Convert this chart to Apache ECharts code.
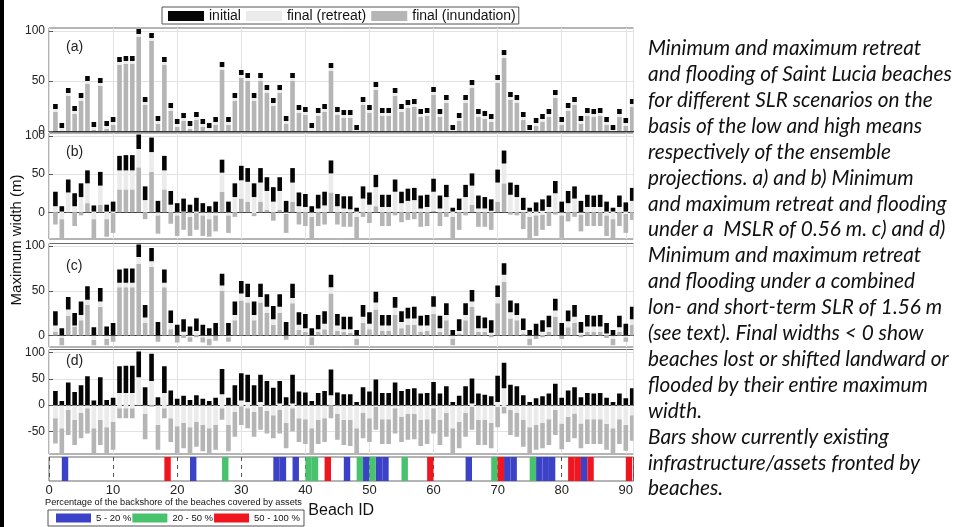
<!DOCTYPE html>
<html>
<head>
<meta charset="utf-8">
<script src="https://cdn.jsdelivr.net/npm/echarts@6/dist/echarts.min.js"></script>
<style>
html,body{margin:0;padding:0;background:#fff;}
#c{width:957px;height:527px;}
</style>
</head>
<body>
<div id="c"></div>
<script>
// ---------------- DATA ----------------
const beachIds = [1,2,3,4,5,6,7,8,9,10,11,12,13,14,15,16,17,18,19,20,21,22,23,24,25,26,27,28,29,30,31,32,33,34,35,36,37,38,39,40,41,42,43,44,45,46,47,48,49,50,51,52,53,54,55,56,57,58,59,60,61,62,63,64,65,66,67,68,69,70,71,72,73,74,75,76,77,78,79,80,81,82,83,84,85,86,87,88,89,90,91];

// initial maximum width (top of the black segment), same in all panels
const initialWidth = [27,8,43,25,38,55,9,53,10,14, 74,75,75,102,34,98,15,74,28,12, 18,10,19,12,8,14,69,14,38,61, 58,38,58,46,33,46,15,58,26,24, 8,23,27,68,24,21,21,6,34,26, 49,23,23,43,27,31,32,22,23,44, 22,36,6,18,36,51,22,20,17,56, 81,39,36,19,6,13,17,22,41,14, 28,34,15,23,22,23,14,6,22,13,32];

// panel (a): bottom of black (final retreat) and bottom of light grey (final inundation); grey starts at 0
const aBlackLow = [22,3,38,20,33,50,4,48,5,9, 69,70,70,97,29,93,10,69,23,7, 13,5,14,7,3,9,64,9,33,56, 53,33,53,41,28,41,10,53,21,19, 3,18,22,63,19,16,16,1,29,21, 44,18,18,38,22,26,27,17,18,39, 17,31,1,13,31,46,17,15,12,51, 76,34,31,14,1,8,12,17,36,9, 23,29,10,18,17,18,9,1,17,8,27];
const aLightLow = [19,0,35,17,30,47,1,45,2,6, 66,67,67,94,26,90,7,66,20,4, 10,2,11,4,0,6,61,6,30,53, 50,30,50,38,25,38,7,50,18,16, 0,15,19,60,16,13,13,0,26,18, 41,15,15,35,19,23,24,14,15,36, 14,28,0,10,28,43,14,12,9,48, 73,31,28,11,0,5,9,14,33,6, 20,26,7,15,14,15,6,0,14,5,24];

// panel (b)
const bBlackLow = [8,1,26,8,20,38,1,35,1,1, 55,55,55,83,16,79,0,55,10,0, 1,0,1,0,0,0,52,0,20,42, 40,20,39,28,14,28,0,39,8,7, 0,5,9,51,8,5,4,1,18,10, 33,7,7,27,12,15,16,5,7,27, 5,20,1,3,20,35,5,5,2,39, 64,23,20,3,1,1,2,7,25,0, 12,18,0,7,7,7,1,1,7,1,15];
const bLightLow = [0,-9,0,0,0,12,-9,10,-9,-1, 30,30,30,59,0,53,-4,30,0,-4, 0,-6,-1,-4,-9,-4,27,-4,0,18, 14,-1,14,3,0,3,-2,14,0,0, -6,0,0,26,0,0,0,-6,0,0, 8,0,0,0,0,0,0,0,0,2, 0,0,-6,0,0,10,0,0,0,14, 38,0,0,0,-6,-4,-3,0,0,-4, 0,0,-3,0,0,0,-4,-9,0,-2,0];
const bGreyLow = [-16,-34,0,-18,-4,0,-34,0,-32,-27, 0,0,0,0,-9,0,-28,0,-15,-31, -23,-31,-23,-31,-32,-25,0,-27,-6,0, 0,-5,0,0,-11,0,-27,0,-16,-18, -34,-18,-16,0,-16,-19,-19,-34,-6,-14, 0,-18,-18,-4,-13,-10,-9,-19,-18,0, -18,-6,-34,-23,-4,0,-19,-19,-23,0, 0,-3,-4,-22,-34,-31,-23,-18,-3,-34, -12,-6,-25,-18,-18,-18,-31,-34,-18,-27,-10];

// panel (c)
const cBlackLow = [11,0,29,11,23,40,0,38,0,0, 59,59,59,88,20,83,0,59,14,0, 4,0,5,0,0,0,56,0,23,47, 43,23,43,32,18,32,0,42,12,8, 0,7,13,54,11,7,7,0,21,13, 37,11,11,31,15,19,19,11,11,32, 8,23,0,5,23,38,8,8,3,43, 68,26,23,6,0,0,4,9,28,0, 16,21,3,10,10,10,2,0,9,0,18];
const cLightLow = [4,-3,22,10,17,34,-5,32,-4,0, 54,54,54,80,14,77,0,54,7,0, 0,-2,0,-2,-4,0,50,-2,17,39, 37,17,37,25,12,25,0,36,6,4, -2,4,7,47,5,4,3,-4,14,7, 29,5,5,23,8,12,12,4,5,24, 4,17,-4,2,17,32,4,4,0,36, 60,19,17,2,-4,0,0,4,21,0, 9,14,0,4,4,4,0,-4,4,-2,12];
const cGreyLow = [0,-11,0,0,0,0,-11,0,-11,-7, 0,0,0,0,0,0,-7,0,0,-8, -3,-7,-2,-8,-11,-6,0,-7,0,0, 0,0,0,0,0,0,-5,0,0,0, -11,0,0,0,0,0,0,-11,0,0, 0,0,0,0,0,0,0,0,0,0, 0,0,-11,0,0,0,0,0,-2,0, 0,0,0,0,-11,-4,-2,0,0,-4, 0,0,-2,0,0,0,-3,-11,0,-7,0];

// panel (d)
const dBlackLow = [0,0,0,0,0,0,0,0,0,0, 23,23,23,53,0,46,0,23,0,0, 0,0,0,0,0,0,21,0,0,9, 6,0,6,0,0,3,0,3,0,0, 0,0,0,19,0,0,0,0,0,0, 0,0,0,0,0,0,0,0,0,0, 0,0,0,0,0,3,0,0,0,6, 32,0,0,0,0,0,0,0,0,0, 0,0,0,0,0,0,0,0,0,0,0];
const dLightLow = [-25,-44,-9,-28,-15,-6,-44,-28,-42,-32, -6,-6,-6,0,-17,0,-38,-6,-25,-40, -34,-42,-32,-38,-44,-38,-6,-38,-13,-2, -6,-13,-3,-11,-19,-9,-34,-6,-25,-27, -44,-28,-25,0,-17,-28,-28,-44,-15,-25, -3,-27,-27,-6,-22,-17,-17,-28,-27,-6, -28,-15,-44,-32,-15,-3,-28,-28,-34,-3, -3,-9,-15,-28,-42,-38,-34,-27,-9,-35, -22,-16,-35,-27,-27,-27,-36,-44,-27,-38,-19];
const dGreyLow = [-73,-93,-57,-76,-63,-54,-93,-76,-92,-85, -25,-25,-25,0,-65,-3,-85,-25,-70,-92, -82,-92,-79,-88,-92,-85,-28,-88,-60,-38, -44,-60,-47,-54,-63,-54,-82,-50,-70,-74, -93,-74,-70,-25,-66,-76,-78,-93,-63,-70, -47,-74,-74,-54,-70,-66,-65,-78,-74,-54, -76,-60,-93,-82,-60,-47,-76,-76,-82,-42, -16,-57,-60,-79,-92,-85,-82,-76,-57,-84, -70,-63,-82,-74,-74,-74,-85,-92,-74,-87,-68];

// assets strip: each band spans [start, start+1] on the Beach ID axis
const assetBlue  = [2,22,35,36,38,46,49,51,52,65,71,72,76,77,78,83];
const assetGreen = [27,40,41,48,50,55,69,75];
const assetRed   = [18,43,59,70,81,82,84,90];

const xTickLabels = [0,10,20,30,40,50,60,70,80,90];
const panelTicks = [[0,50,100],[0,50,100],[0,50,100],[-50,0,50,100]];
const panelLetters = ['(a)','(b)','(c)','(d)'];

const captionLines = [
  'Minimum and maximum retreat',
  'and flooding of Saint Lucia beaches',
  'for different SLR scenarios on the',
  'basis of the low and high means',
  'respectively of the ensemble',
  'projections. a) and b) Minimum',
  'and maximum retreat and flooding',
  'under a  MSLR of 0.56 m. c) and d)',
  'Minimum and maximum retreat',
  'and flooding under a combined',
  'lon- and short-term SLR of 1.56 m',
  '(see text). Final widths < 0 show',
  'beaches lost or shifted landward or',
  'flooded by their entire maximum',
  'width.',
  'Bars show currently existing',
  'infrastructure/assets fronted by',
  'beaches.'
];

// ---------------- LAYOUT / STYLE ----------------
const COL_BLACK = '#050505', COL_LIGHT = '#ebebeb', COL_GREY = '#b5b5b5';
const COL_BLUE = '#3b42c8', COL_GREEN = '#48c26c', COL_RED = '#ef1620';
const GL = 49, GW = 584.5;
const boxes = [
  {top: 28,    height: 104,   min: -1,  max: 103},
  {top: 133,   height: 106,   min: -35, max: 104},
  {top: 243.5, height: 103.5, min: -13, max: 103},
  {top: 349.5, height: 104.5, min: -93, max: 106}
];
const strip = {top: 457, height: 24};
const BAR_W = 0.72;
const FONT = 'Liberation Sans, Arial, sans-serif';

function clipTo(params, r) {
  const cs = params.coordSys;
  return echarts.graphic.clipRectByRect(r, {x: cs.x, y: cs.y, width: cs.width, height: cs.height});
}
function segRender(params, api) {
  const x = api.value(0), lo = api.value(1), hi = api.value(2);
  if (!(hi > lo)) return null;
  const tl = api.coord([x - BAR_W / 2, hi]);
  const br = api.coord([x + BAR_W / 2, lo]);
  const r = clipTo(params, {x: tl[0], y: tl[1], width: br[0] - tl[0], height: br[1] - tl[1]});
  return r ? {type: 'rect', shape: r, style: api.style()} : null;
}
function bandRender(params, api) {
  const s = api.value(0);
  const tl = api.coord([s, 1]);
  const br = api.coord([s + 1, 0]);
  const r = clipTo(params, {x: tl[0], y: tl[1], width: br[0] - tl[0], height: br[1] - tl[1]});
  return r ? {type: 'rect', shape: r, style: api.style()} : null;
}

const grids = [], xAxes = [], yAxes = [], series = [];
boxes.forEach((b, i) => {
  grids.push({left: GL, width: GW, top: b.top, height: b.height, show: true,
    borderColor: '#6a6a6a', borderWidth: 1, backgroundColor: 'transparent'});
  xAxes.push({type: 'value', gridIndex: i, min: 0, max: 91.2, interval: 10,
    axisLine: {show: true, onZero: true, lineStyle: {color: '#333', width: 1}},
    axisTick: {show: false}, axisLabel: {show: false},
    splitLine: {show: true, lineStyle: {color: '#e2e2e2', width: 1}}});
  yAxes.push({type: 'value', gridIndex: i, min: b.min, max: b.max,
    axisLine: {show: false},
    axisTick: {show: true, inside: true, length: 4, customValues: panelTicks[i], lineStyle: {color: '#555'}},
    axisLabel: {show: true, customValues: panelTicks[i], margin: 4, fontSize: 12, color: '#222', fontFamily: FONT},
    splitLine: {show: true, lineStyle: {color: '#e2e2e2', width: 1}}});
});
grids.push({left: GL, width: GW, top: strip.top, height: strip.height, show: true,
  borderColor: '#6a6a6a', borderWidth: 1, backgroundColor: 'transparent'});
xAxes.push({type: 'value', gridIndex: 4, min: 0, max: 91.2, interval: 10,
  axisLine: {show: false}, axisTick: {show: false},
  axisLabel: {show: true, margin: 3, fontSize: 13, color: '#222', fontFamily: FONT,
    formatter: v => (xTickLabels.indexOf(v) >= 0 ? String(v) : '')},
  splitLine: {show: true, lineStyle: {color: '#555', width: 1, type: [4, 4]}},
  name: 'Beach ID', nameLocation: 'middle', nameGap: 22,
  nameTextStyle: {fontSize: 16, color: '#111', fontFamily: FONT}});
yAxes.push({type: 'value', gridIndex: 4, min: 0, max: 1, interval: 1,
  axisLine: {show: false}, axisTick: {show: false}, axisLabel: {show: false}, splitLine: {show: false}});

const panels = [
  {black: aBlackLow, light: aLightLow, grey: null},
  {black: bBlackLow, light: bLightLow, grey: bGreyLow},
  {black: cBlackLow, light: cLightLow, grey: cGreyLow},
  {black: dBlackLow, light: dLightLow, grey: dGreyLow}
];
function segSeries(name, gi, data, color) {
  return {type: 'custom', name, xAxisIndex: gi, yAxisIndex: gi, renderItem: segRender,
    itemStyle: {color}, encode: {x: 0, y: [1, 2]}, data, silent: true, clip: true};
}
panels.forEach((p, gi) => {
  series.push(segSeries('final (inundation)', gi,
    beachIds.map((id, k) => [id, p.grey ? p.grey[k] : 0, p.light[k]]), COL_GREY));
  series.push(segSeries('final (retreat)', gi,
    beachIds.map((id, k) => [id, p.light[k], p.black[k]]), COL_LIGHT));
  series.push(segSeries('initial', gi,
    beachIds.map((id, k) => [id, p.black[k], initialWidth[k]]), COL_BLACK));
});
[['5 - 20 %', assetBlue, COL_BLUE], ['20 - 50 %', assetGreen, COL_GREEN], ['50 - 100 %', assetRed, COL_RED]]
  .forEach(([name, arr, color]) => {
    series.push({type: 'custom', name, xAxisIndex: 4, yAxisIndex: 4, renderItem: bandRender,
      itemStyle: {color}, encode: {x: 0}, data: arr.map(s => [s]), silent: true});
  });

const graphics = [
  {type: 'rect', left: 0, top: 0, shape: {x: 0, y: 0, width: 4, height: 527}, style: {fill: '#000'}},
  {type: 'text', x: 17, y: 240, rotation: Math.PI / 2,
    style: {text: 'Maximum width (m)', font: '15px ' + FONT, fill: '#111', textAlign: 'center', textVerticalAlign: 'middle'}},
  {type: 'text', x: 45, y: 502,
    style: {text: 'Percentage of the backshore of the beaches covered by assets', font: '9.2px ' + FONT, fill: '#111', textVerticalAlign: 'middle'}},
  {type: 'text', x: 648, y: 35.5,
    style: {text: captionLines.join('\n'), font: 'italic 20.8px Lato, sans-serif', lineHeight: 25.9, fill: '#111'}}
];
const letterPos = [47, 152, 266, 361];
panelLetters.forEach((t, i) => {
  graphics.push({type: 'text', x: 66, y: letterPos[i],
    style: {text: t, font: '14px ' + FONT, fill: '#222', textVerticalAlign: 'middle'}});
});

const option = {
  animation: false,
  backgroundColor: '#fff',
  grid: grids,
  xAxis: xAxes,
  yAxis: yAxes,
  legend: [
    {data: [{name: 'initial'}, {name: 'final (retreat)'}, {name: 'final (inundation)'}],
     left: 162, top: 7, orient: 'horizontal', icon: 'rect', itemWidth: 36, itemHeight: 10, itemGap: 5,
     padding: [2, 3, 1, 6], borderColor: '#555', borderWidth: 1, backgroundColor: '#fff',
     selectedMode: false, textStyle: {fontSize: 14, color: '#111', fontFamily: FONT}},
    {data: [{name: '5 - 20 %'}, {name: '20 - 50 %'}, {name: '50 - 100 %'}],
     left: 48, top: 510, orient: 'horizontal', icon: 'rect', itemWidth: 35, itemHeight: 9, itemGap: 1,
     padding: [3, 4, 3, 8], borderColor: '#555', borderWidth: 1, backgroundColor: '#fff',
     selectedMode: false, textStyle: {fontSize: 9.5, color: '#111', fontFamily: FONT}}
  ],
  graphic: graphics,
  series
};
const chart = echarts.init(document.getElementById('c'), null, {renderer: 'canvas', width: 957, height: 527});
chart.setOption(option);
</script>
</body>
</html>
